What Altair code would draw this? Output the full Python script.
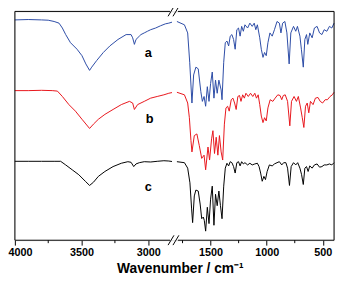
import altair as alt
import pandas as pd

# ---------------- data ----------------
samples = ["a", "b", "c"]
colors = ["#2b4aa5", "#e8141b", "#000000"]

# (wavenumber cm-1, offset transmittance a.u.)
spec_a = [(4000,225.3),(3900,225.7),(3800,225.3),(3750,225.0),(3706,223.7),(3669,222.0),(3644,217.0),
          (3619,210.3),(3583,202.0),(3534,195.3),(3497,188.7),(3468,180.3),(3440,173.7),(3424,177.0),
          (3387,183.7),(3337,192.0),(3288,198.7),(3227,205.3),(3166,210.3),(3129,210.3),(3117,207.0),
          (3104,200.3),(3092,205.3),(3067,208.7),(3055,210.3),(3030,212.0),(3006,213.7),(2982,215.3),
          (2945,217.0),(2908,219.3),(2871,221.3),(2846,222.0),(2822,223.0),
          (1800,223.7),(1733,220.3),(1704,212.0),(1686,182.0),(1666,140.3),(1651,169.0),(1631,177.0),
          (1610,175.3),(1587,152.0),(1573,142.0),(1558,147.0),(1544,137.0),(1529,157.0),(1514,142.0),
          (1500,160.3),(1485,172.0),(1470,145.3),(1456,163.7),(1441,150.3),(1426,163.7),(1406,153.7),
          (1398,143.7),(1383,182.0),(1369,202.0),(1354,203.7),(1339,198.7),(1325,208.7),(1310,210.3),
          (1295,205.3),(1281,195.3),(1266,215.3),(1251,217.0),(1237,208.7),(1223,218.7),(1208,213.7),
          (1194,220.3),(1170,217.0),(1150,222.0),(1129,218.7),(1111,222.0),(1097,215.3),(1083,220.3),
          (1062,207.0),(1048,195.3),(1033,187.0),(1019,192.0),(1004,188.7),(989,202.0),(971,212.0),
          (951,208.7),(931,215.3),(908,223.7),(887,222.0),(873,212.0),(858,222.0),(838,223.7),
          (820,212.0),(800,180.3),(785,212.0),(761,218.7),(741,213.7),(726,218.7),(704,208.7),
          (691,195.3),(674,177.0),(660,205.3),(645,210.3),(634,200.3),(616,212.0),(595,207.0),
          (575,217.0),(551,218.7),(529,212.0),(508,210.3),(488,215.3),(464,213.7),(441,218.7),
          (420,217.0),(400,222.0)]

spec_b = [(4000,153.0),(3900,153.0),(3800,153.3),(3720,153.0),(3681,152.5),(3644,147.0),(3595,138.7),
          (3546,132.0),(3497,123.7),(3440,114.3),(3411,118.7),(3374,123.7),(3325,128.7),(3264,133.7),
          (3202,138.7),(3141,142.0),(3117,140.3),(3104,133.7),(3080,138.7),(3030,142.0),(2982,145.3),
          (2933,147.0),(2883,148.7),(2846,150.3),(2822,151.0),
          (1800,151.3),(1733,148.7),(1704,140.3),(1689,125.3),(1675,102.0),(1666,90.3),(1645,107.0),
          (1622,108.7),(1601,97.0),(1579,83.7),(1558,87.0),(1544,72.0),(1523,95.3),(1509,82.0),
          (1491,103.7),(1479,112.0),(1465,88.7),(1450,105.3),(1435,87.0),(1421,107.0),(1406,90.3),
          (1392,82.0),(1377,118.7),(1363,135.3),(1348,137.0),(1334,132.0),(1316,143.7),(1301,145.3),
          (1286,140.3),(1272,133.7),(1257,147.0),(1242,148.0),(1229,142.0),(1214,148.7),(1199,145.3),
          (1185,150.3),(1164,147.0),(1144,150.3),(1124,147.0),(1106,150.3),(1091,145.3),(1076,148.7),
          (1062,138.7),(1048,127.0),(1033,120.3),(1019,125.3),(1004,122.0),(989,135.3),(969,143.7),
          (945,142.0),(925,145.3),(901,148.7),(881,148.0),(866,143.7),(852,148.0),(835,148.7),
          (814,142.0),(794,117.0),(779,142.0),(756,147.0),(735,142.0),(718,147.0),(698,135.3),
          (683,125.3),(669,115.3),(654,137.0),(639,140.3),(625,130.3),(610,142.0),(587,138.7),
          (566,145.3),(543,146.0),(523,142.0),(502,140.3),(479,143.7),(459,143.7),(435,147.0),
          (415,148.7),(400,151.3)]

spec_c = [(4000,80.7),(3900,80.7),(3800,80.7),(3700,80.7),(3657,80.7),(3619,77.0),(3570,72.0),
          (3521,67.0),(3472,60.3),(3440,56.0),(3411,59.3),(3374,65.3),(3325,70.3),(3264,75.3),
          (3202,78.7),(3153,80.3),(3129,79.7),(3109,75.3),(3092,78.0),(3067,79.3),(3030,80.3),
          (2982,80.0),(2933,80.7),(2883,81.3),(2846,81.0),(2822,80.5),
          (1800,80.3),(1733,79.3),(1704,73.7),(1684,58.7),(1669,32.0),(1660,18.0),(1645,45.3),
          (1631,51.3),(1610,50.3),(1593,37.0),(1579,22.0),(1565,23.7),(1556,20.3),(1544,9.3),
          (1529,33.7),(1514,17.0),(1500,42.0),(1485,55.3),(1470,15.3),(1456,47.0),(1441,35.3),
          (1426,50.3),(1412,35.3),(1398,22.0),(1383,55.3),(1369,73.7),(1354,78.7),(1339,76.0),
          (1325,80.3),(1310,79.3),(1295,75.3),(1281,68.7),(1266,79.3),(1251,80.3),(1237,76.0),
          (1223,80.3),(1208,78.0),(1194,79.3),(1170,77.0),(1150,78.7),(1129,77.0),(1106,78.0),
          (1083,78.7),(1068,75.3),(1054,68.7),(1040,60.3),(1025,65.3),(1011,62.0),(996,70.3),
          (976,77.0),(951,76.0),(931,78.0),(908,79.3),(887,80.3),(866,77.0),(849,79.3),
          (829,79.3),(814,73.7),(797,56.0),(782,75.3),(761,79.3),(741,77.0),(724,79.3),
          (704,73.7),(689,67.0),(674,57.0),(660,73.7),(645,75.3),(631,70.3),(616,76.0),
          (595,73.7),(575,77.0),(551,78.0),(529,74.7),(508,75.3),(488,77.0),(464,77.0),
          (441,78.0),(420,77.0),(400,79.3)]

major_ticks = [4000, 3500, 3000, 1500, 1000, 500]
minor_ticks = [3750, 3250, 1750, 1250, 750]

label_text = ["a", "b", "c"]
label_wn = [3000, 2990, 3000]
label_t = [191, 124, 54]

# ---------------- broken axis mapping ----------------
L_HI, L_LO, R_HI, R_LO = 4000, 2800, 1800, 400
L_K, R_OFF, R_K = 0.135833, 165.0, 0.114286
U_MAX = 325.0
T_MAX = 234.0

def u_of(w):
    return (L_HI - w) * L_K if w >= L_LO else R_OFF + (R_HI - w) * R_K

u_expr = f"datum.wn >= {L_LO} ? ({L_HI} - datum.wn) * {L_K} : {R_OFF} + ({R_HI} - datum.wn) * {R_K}"
label_expr = f"datum.value < 164 ? '' + round({L_HI} - datum.value / {L_K}) : '' + round({R_HI} - (datum.value - {R_OFF}) / {R_K})"

rows = []
for s, spec in zip(samples, [spec_a, spec_b, spec_c]):
    for w, t in spec:
        rows.append({"sample": s, "wn": w, "T": t})
spectra = pd.DataFrame(rows)

xscale = alt.Scale(domain=[0, U_MAX], nice=False, zero=False)
yscale = alt.Scale(domain=[0, T_MAX], nice=False, zero=False)
FONT = "Liberation Sans"

xaxis = alt.Axis(
    values=[round(u_of(w), 3) for w in major_ticks], labelExpr=label_expr,
    tickSize=5, tickColor="black", tickWidth=1, domain=False, grid=False,
    labelFont=FONT, labelFontSize=11, labelFontWeight="bold", labelColor="black",
    labelPadding=2, labelFlush=True, labelFlushOffset=7,
    title="Wavenumber / cm⁻¹", titleFont=FONT, titleFontSize=14,
    titleFontWeight="bold", titleColor="black", titlePadding=4, titleX=168)

lines = alt.Chart(spectra).transform_calculate(
    u=u_expr, seg="datum.wn >= 2000 ? 'L' : 'R'"
).mark_line(strokeWidth=1).encode(
    x=alt.X("u:Q", scale=xscale, axis=xaxis),
    y=alt.Y("T:Q", scale=yscale, axis=None),
    color=alt.Color("sample:N", scale=alt.Scale(domain=samples, range=colors), legend=None),
    detail="seg:N",
)

# frame with the gap of the broken axis (data coordinates)
frame = pd.DataFrame([
    {"u": 0, "u2": 0, "t1": 0, "t2": T_MAX},
    {"u": U_MAX, "u2": U_MAX, "t1": 0, "t2": T_MAX},
    {"u": 0, "u2": 158, "t1": 0, "t2": 0},
    {"u": 166, "u2": U_MAX, "t1": 0, "t2": 0},
    {"u": 0, "u2": 158, "t1": T_MAX, "t2": T_MAX},
    {"u": 166, "u2": U_MAX, "t1": T_MAX, "t2": T_MAX},
    {"u": 156, "u2": 162, "t1": -5, "t2": 5},
    {"u": 161, "u2": 167, "t1": -5, "t2": 5},
    {"u": 156, "u2": 162, "t1": T_MAX - 5, "t2": T_MAX + 5},
    {"u": 161, "u2": 167, "t1": T_MAX - 5, "t2": T_MAX + 5},
])
frame_layer = alt.Chart(frame).mark_rule(color="black", strokeWidth=1).encode(
    x=alt.X("u:Q", scale=xscale, axis=xaxis), x2="u2:Q",
    y=alt.Y("t1:Q", scale=yscale, axis=None), y2="t2:Q",
)

minor_df = pd.DataFrame({"wn": minor_ticks})
minor_layer = alt.Chart(minor_df).transform_calculate(
    u=u_expr, t1="0", t2="-3"
).mark_rule(color="black", strokeWidth=1).encode(
    x=alt.X("u:Q", scale=xscale, axis=xaxis),
    y=alt.Y("t1:Q", scale=yscale, axis=None), y2="t2:Q",
)

labels_df = pd.DataFrame({"text": label_text, "wn": label_wn, "T": label_t})
label_layer = alt.Chart(labels_df).transform_calculate(u=u_expr).mark_text(
    font=FONT, fontSize=13, fontWeight="bold", color="black"
).encode(
    x=alt.X("u:Q", scale=xscale, axis=xaxis),
    y=alt.Y("T:Q", scale=yscale, axis=None),
    text="text:N",
)

chart = alt.layer(lines, frame_layer, minor_layer, label_layer).properties(
    width=U_MAX, height=233,
    padding={"left": 7, "top": 1, "right": 2, "bottom": 36},
    autosize=alt.AutoSizeParams(type="none"),
).configure_view(stroke=None).configure(background="white")

chart.save("out.html", embed_options={"renderer": "svg", "actions": False})
